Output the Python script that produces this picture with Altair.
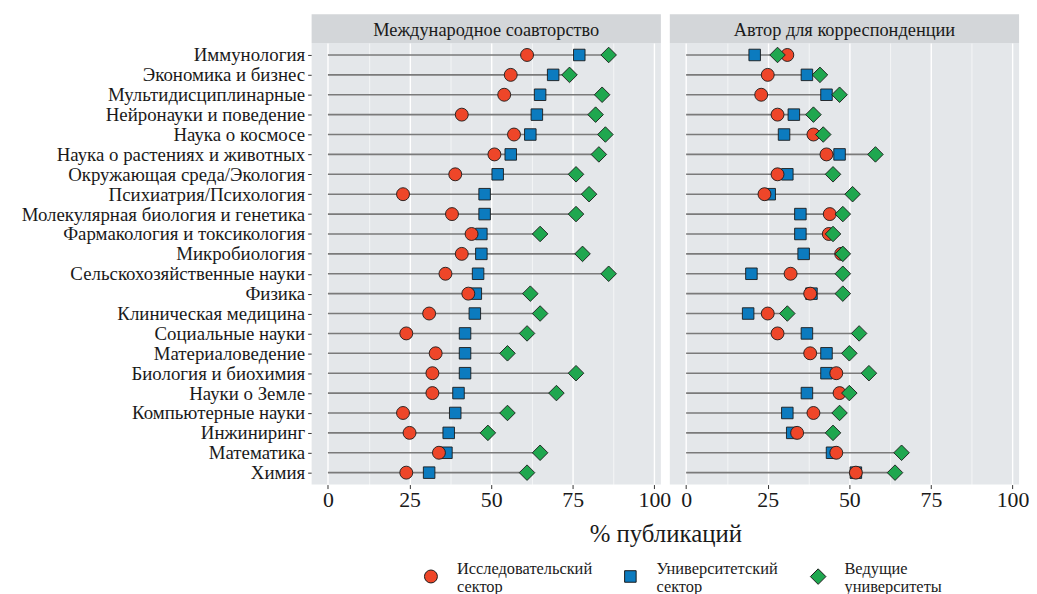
import altair as alt
import pandas as pd

categories = [
    "Иммунология", "Экономика и бизнес", "Мультидисциплинарные",
    "Нейронауки и поведение", "Наука о космосе", "Наука о растениях и животных",
    "Окружающая среда/Экология", "Психиатрия/Психология",
    "Молекулярная биология и генетика", "Фармакология и токсикология",
    "Микробиология", "Сельскохозяйственные науки", "Физика",
    "Клиническая медицина", "Социальные науки", "Материаловедение",
    "Биология и биохимия", "Науки о Земле", "Компьютерные науки",
    "Инжиниринг", "Математика", "Химия",
]
panels = ["Международное соавторство", "Автор для корреспонденции"]
series = ["Исследовательский сектор", "Университетский сектор", "Ведущие университеты"]

intl_research = [61, 56, 54, 41, 57, 51, 39, 23, 38, 44, 41, 36, 43, 31, 24, 33, 32, 32, 23, 25, 34, 24]
intl_univ = [77, 69, 65, 64, 62, 56, 52, 48, 48, 47, 47, 46, 45.3, 45, 42, 42, 42, 40, 39, 37, 36.3, 31]
intl_lead = [86, 74, 84, 82, 85, 83, 76, 80, 76, 65, 78, 86, 62, 65, 61, 55, 76, 70, 55, 49, 65, 61]

corr_research = [31, 25, 23, 28, 39, 43, 28, 24, 44, 43.7, 47.5, 32, 38, 25, 28, 38, 46, 47, 39, 34, 46, 52]
corr_univ = [21, 37, 43, 33, 30, 47, 31, 25.6, 35, 35, 36, 20, 38.4, 19, 37, 43, 43, 37, 31, 32.5, 44.7, 52]
corr_lead = [28, 41, 47, 39, 42, 58, 45, 51, 48, 45, 48, 48, 48, 31, 53, 50, 56, 50, 47, 45, 66, 64]

colors = ["#EE4629", "#0C7BBF", "#1FA74F"]
shapes = ["circle", "square", "diamond"]
sizes = [170, 135, 245]

# long table; university sector first so circles draw over squares, diamonds last
rows = []
values = {
    panels[0]: {series[0]: intl_research, series[1]: intl_univ, series[2]: intl_lead},
    panels[1]: {series[0]: corr_research, series[1]: corr_univ, series[2]: corr_lead},
}
draw_order = [series[1], series[0], series[2]]
for p in panels:
    for s in draw_order:
        for c, v in zip(categories, values[p][s]):
            rows.append({"panel": p, "series": s, "category": c, "value": v})
df = pd.DataFrame(rows)

W, H, STRIP = 352, 445, 29
FONT = "Liberation Serif"

xscale = alt.Scale(domain=[-5, 102], nice=False, zero=False)
yenc = alt.Y(
    "category:N", sort=categories, title=None,
    scale=alt.Scale(type="point", padding=0.6),
    axis=alt.Axis(labelFontSize=19, labelColor="#1a1a1a", tickSize=4, tickColor="#333333",
                  domain=False, grid=False, labelPadding=3, labelFont=FONT, labelLimit=600),
)
xaxis = alt.Axis(
    values=[0, 12.5, 25, 37.5, 50, 62.5, 75, 87.5, 100],
    labelExpr="datum.value % 25 === 0 ? datum.label : ''",
    grid=True, gridColor="#ffffff",
    gridWidth={"condition": {"test": "datum.value % 25 === 0", "value": 1.4}, "value": 0.6},
    tickOpacity={"condition": {"test": "datum.value % 25 === 0", "value": 1}, "value": 0},
    tickSize=4, tickColor="#333333", domain=False,
    labelFontSize=22, labelColor="#1a1a1a", labelPadding=1, labelFont=FONT,
    title=None,
)

legend = alt.Legend(title=None, orient="none", direction="horizontal",
                    legendX=112, legendY=529, labelExpr="split(datum.label, ' ')")

base = alt.Chart()

segments = base.transform_aggregate(
    vmax="max(value)", groupby=["category"]
).transform_calculate(zero="0").mark_rule(color="#7a7a7a", strokeWidth=1.6).encode(
    x=alt.X("zero:Q", scale=xscale, axis=xaxis),
    x2="vmax:Q",
    y=yenc,
)

points = base.mark_point(filled=True, opacity=1, stroke="#1a1a1a", strokeWidth=0.9).encode(
    x=alt.X("value:Q", scale=xscale, axis=xaxis),
    y=yenc,
    color=alt.Color("series:N", scale=alt.Scale(domain=series, range=colors), legend=legend),
    shape=alt.Shape("series:N", scale=alt.Scale(domain=series, range=shapes), legend=legend),
    size=alt.Size("series:N", scale=alt.Scale(type="ordinal", domain=series, range=sizes),
                  legend=legend),
)

strip_bg = base.transform_aggregate(n="count()", groupby=["panel"]).mark_rect(
    color="#d3d6d9", clip=False
).encode(x=alt.value(0), x2=alt.value(W), y=alt.value(-STRIP), y2=alt.value(0))

strip_txt = base.transform_aggregate(n="count()", groupby=["panel"]).mark_text(
    font=FONT, fontSize=18.5, color="#1a1a1a", baseline="middle", align="center"
).encode(text="panel:N", x=alt.value(W / 2), y=alt.value(-STRIP / 2 + 1))

chart = alt.layer(segments, points, strip_bg, strip_txt, data=df).properties(
    width=W, height=H
).facet(
    column=alt.Column(
        "panel:N", sort=panels, title="% публикаций",
        header=alt.Header(labels=False, titleOrient="bottom", titleAnchor="middle",
                          titleFont=FONT, titleFontSize=25, titleFontWeight="normal",
                          titleColor="#1a1a1a", titlePadding=2),
    ),
    spacing=9,
).configure(
    font=FONT, padding={"left": 13, "top": 4, "right": 0, "bottom": 0}
).configure_view(
    fill="#e4e7ea", stroke=None
).configure_legend(
    labelFont=FONT, labelFontSize=16.5, labelColor="#1a1a1a", labelOffset=18,
    columnPadding=30, symbolStrokeColor="#1a1a1a", symbolStrokeWidth=1,
    labelBaseline="bottom", padding=0,
)

chart.save("out.html", embed_options={"renderer": "svg", "actions": False})
